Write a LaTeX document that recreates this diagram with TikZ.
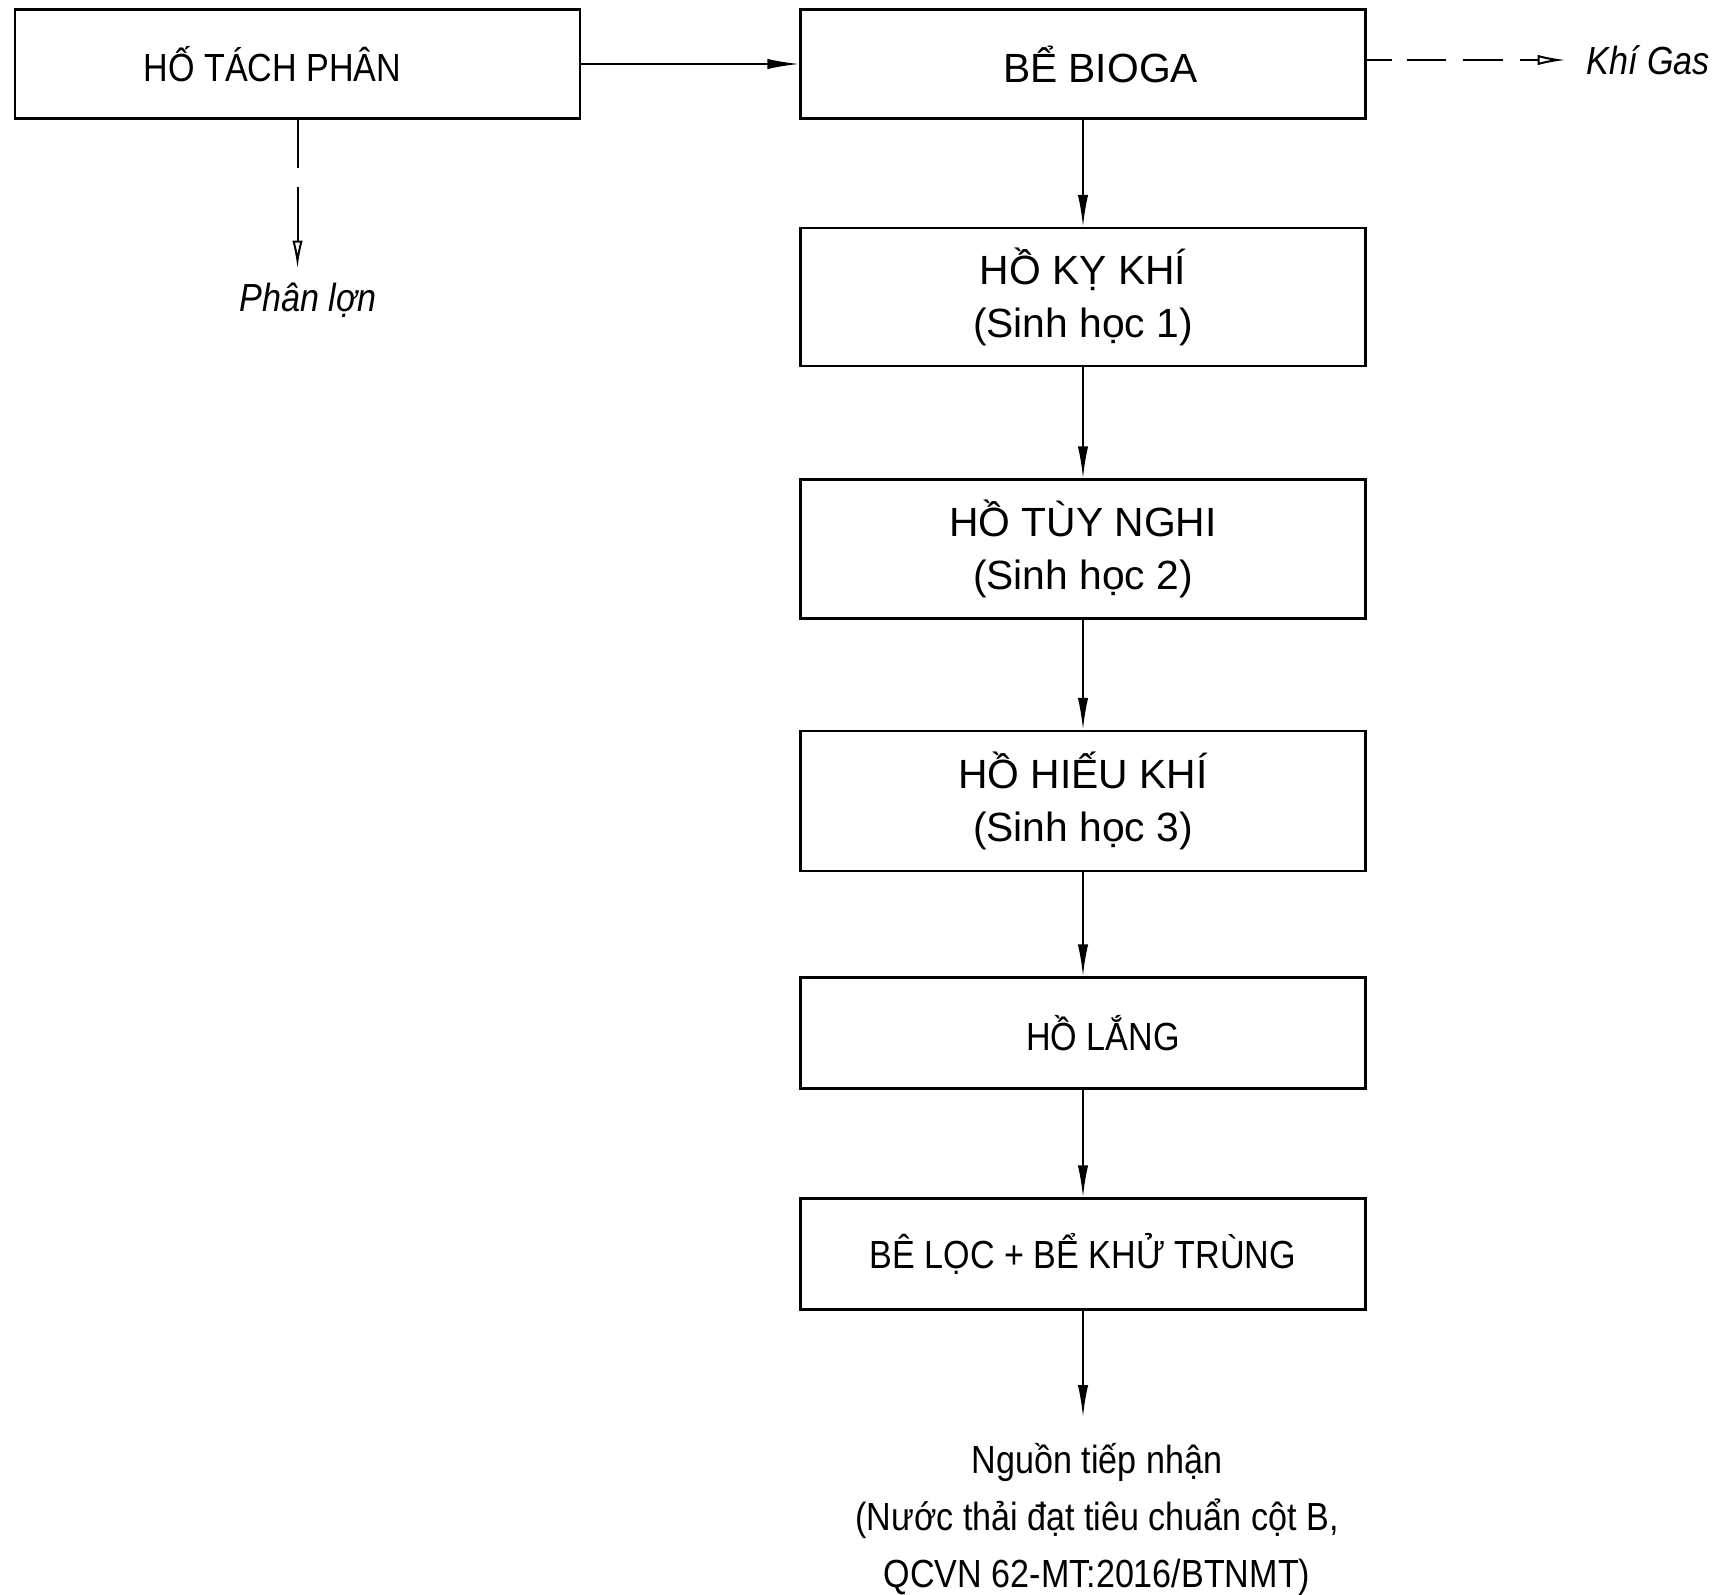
\documentclass[tikz,border=0pt]{standalone}
\usepackage{fontspec}
\setmainfont{Liberation Sans}[FakeStretch=0.87]
\newfontfamily\widefont{Liberation Sans}
\usetikzlibrary{arrows.meta}

\tikzset{
    box/.style={draw, line width=0.6pt, minimum width=141.25pt, align=center},
    widebox/.style={box, font=\widefont\fontsize{10.2}{13.3}\selectfont},
    flow/.style={line width=0.5pt, -{Latex[length=8pt, width=2.6pt]}},
    gasflow/.style={line width=0.5pt, -{Latex[open, length=7pt, width=2.6pt]}}
}

\begin{document}
\begin{tikzpicture}[x=0.25pt, y=-0.25pt, font=\fontsize{9.8}{14.2}\selectfont]
    \useasboundingbox (0,0) rectangle (1716,1595);

    % Separation pit and biogas tank
    \node[box, minimum height=27.25pt] (hotach) at (297.5, 64) {HỐ TÁCH PHÂN\hspace{12.5pt}};
    \node[widebox, minimum height=27.25pt] (bioga) at (1083, 64) {\hspace{8.75pt}BỂ BIOGA};
    \node[font=\fontsize{9.8}{14}\selectfont\itshape, inner sep=5pt] (gas) at (1648, 60) {Khí Gas};
    \node[font=\fontsize{9.8}{14}\selectfont\itshape] (phan) at (308, 300) {Phân lợn};

    % Ponds
    \node[widebox, minimum height=34.5pt] (kykhi) at (1083, 297) {HỒ KỴ KHÍ\\(Sinh học 1)};
    \node[widebox, minimum height=34.75pt] (tuynghi) at (1083, 549) {HỒ TÙY NGHI\\(Sinh học 2)};
    \node[widebox, minimum height=35pt] (hieukhi) at (1083, 801) {HỒ HIẾU KHÍ\\(Sinh học 3)};
    \node[box, minimum height=27.75pt] (lang) at (1083, 1033) {\hspace{10pt}HỒ LẮNG};
    \node[box, minimum height=27.75pt] (loc) at (1083, 1254) {BÊ LỌC + BỂ KHỬ TRÙNG};

    % Discharge
    \node[anchor=north, align=center, inner ysep=6.5pt] (nguon) at (1097, 1417) {Nguồn tiếp nhận\\(Nước thải đạt tiêu chuẩn cột B,\\QCVN 62-MT:2016/BTNMT)};

    % Arrows
    \draw[flow] (hotach.east) -- (bioga.west);
    \draw[flow] (bioga.south) -- (kykhi.north);
    \draw[flow] (kykhi.south) -- (tuynghi.north);
    \draw[flow] (tuynghi.south) -- (hieukhi.north);
    \draw[flow] (hieukhi.south) -- (lang.north);
    \draw[flow] (lang.south) -- (loc.north);
    \draw[flow] (loc.south) -- (loc.south |- nguon.north);

    % Dashed outputs
    \draw[gasflow, dash pattern=on 6.25pt off 3.75pt on 9.75pt off 4.25pt on 10pt off 4.25pt on 20pt] (bioga.east |- gas.west) -- (gas.west); % gas
    \draw[gasflow, dash pattern=on 12pt off 4.75pt on 30pt] (hotach.south) -- (hotach.south |- phan.north); % manure
\end{tikzpicture}
\end{document}
